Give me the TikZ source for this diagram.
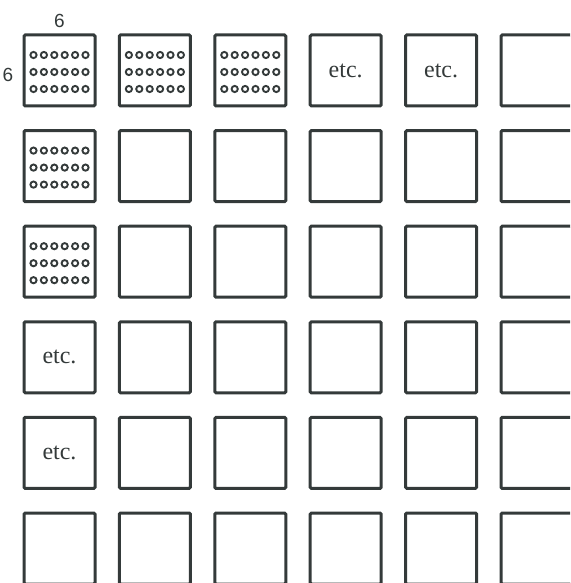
\documentclass[tikz,border=0pt]{standalone}
\usepackage{fontspec}
\setmainfont{Liberation Serif}
\setsansfont{Liberation Sans}
\usetikzlibrary{positioning}
\definecolor{ink}{RGB}{52,58,58}

\begin{document}
\begin{tikzpicture}[x=1pt, y=1pt, ink,
    cell/.style={draw, line width=3pt, rounded corners=1.2pt, minimum size=71pt, inner sep=0pt},
    etc/.style={font=\fontsize{24}{26}\selectfont},
    size/.style={font=\sffamily\fontsize{19}{20}\selectfont, inner sep=0pt}]
    \useasboundingbox (0,0) rectangle (570,-583);
    \clip (0,0) rectangle (570,-583);
    \foreach \r in {0,...,5}
        \foreach \c in {0,...,5}
            \node[cell] (b\r\c) at (59.5+95.4*\c, -70.5-95.6*\r) {};
    \foreach \b in {b00,b01,b02,b10,b20}
        \foreach \i in {0,...,5}
            \foreach \j in {-1,0,1}
                \draw[line width=1.9pt] ([xshift=(\i-2.5)*10.4pt, yshift=-1.5pt-\j*17pt]\b.center) circle (3.1pt);
    \foreach \b in {b03,b04,b30,b40}
        \node[etc] (e\b) at (\b) {etc.};
    \node[size, above=6pt of b00] (width) {6};
    \node[size, left=9pt of b00, yshift=-4pt] (height) {6};
\end{tikzpicture}
\end{document}
